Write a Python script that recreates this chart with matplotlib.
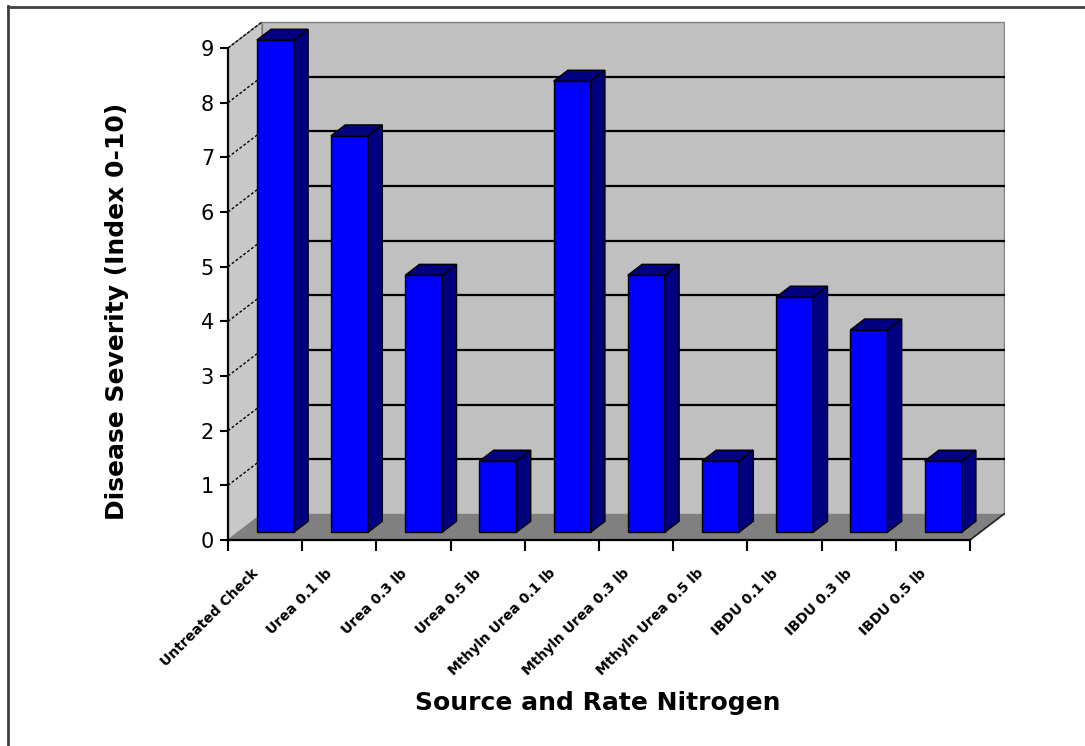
import matplotlib
matplotlib.use("Agg")
import matplotlib.pyplot as plt
import numpy as np
from matplotlib.patches import Polygon, Rectangle
from matplotlib.lines import Line2D
from matplotlib import transforms

# Data
categories = ["Untreated Check", "Urea 0.1 lb", "Urea 0.3 lb", "Urea 0.5 lb",
              "Mthyln Urea 0.1 lb", "Mthyln Urea 0.3 lb", "Mthyln Urea 0.5 lb",
              "IBDU 0.1 lb", "IBDU 0.3 lb", "IBDU 0.5 lb"]
severity = [9.0, 7.25, 4.7, 1.3, 8.25, 4.7, 1.3, 4.3, 3.7, 1.3]
y_ticks = [0, 1, 2, 3, 4, 5, 6, 7, 8, 9]

W, H = 1085, 746
fig = plt.figure(figsize=(W / 100, H / 100), dpi=100)
fig.patch.set_facecolor("white")

# pixel geometry of the plotting box
x0_px, y0_px = 228, 540
px_per_cat = 74.2
px_per_val = 54.67
ax_w_px, ax_h_px = 777, 520
ax = fig.add_axes([x0_px / W, (H - y0_px) / H, ax_w_px / W, ax_h_px / H])
ax.set_xlim(-0.5, -0.5 + ax_w_px / px_per_cat)
ax.set_ylim(0, ax_h_px / px_per_val)
ax.patch.set_alpha(0)

n = len(categories)
ymax = y_ticks[-1]
xl, xr = -0.5, n - 0.5
DX = 34 / px_per_cat   # depth offset (x, data units)
DY = 26 / px_per_val   # depth offset (y, data units)

wall = "#C0C0C0"
floor = "#808080"

# back wall
ax.add_patch(Polygon([(xl + DX, DY), (xr + DX, DY), (xr + DX, ymax + DY), (xl + DX, ymax + DY)],
                     closed=True, facecolor=wall, edgecolor="#808080", lw=1, zorder=1))
# left wall
ax.add_patch(Polygon([(xl, 0), (xl + DX, DY), (xl + DX, ymax + DY), (xl, ymax)],
                     closed=True, facecolor="#C8C8C8", edgecolor="#808080", lw=1, zorder=1))
# floor
ax.add_patch(Polygon([(xl, 0), (xr, 0), (xr + DX, DY), (xl + DX, DY)],
                     closed=True, facecolor=floor, edgecolor="none", zorder=2))
ax.add_line(Line2D([xr, xr + DX], [0, DY], color="#202020", lw=1.2, zorder=2))

# gridlines: back wall and left wall
for v in y_ticks[1:-1]:
    ax.add_line(Line2D([xl + DX, xr + DX], [v + DY, v + DY], color="black", lw=1.6, zorder=2))
for v in y_ticks[1:]:
    ax.add_line(Line2D([xl, xl + DX], [v, v + DY], color="black", lw=1.0,
                       linestyle=(0, (2, 1.5)), zorder=2))

# 3-D bars
bw = 0.5
f_front, f_back = 0.30, 0.72
front_c = "#0000FF"
dark_c = "#000080"
for i, v in enumerate(severity):
    fx, fy = f_front * DX, f_front * DY
    bx, by = f_back * DX, f_back * DY
    left = i - bw / 2
    right = i + bw / 2
    ax.bar(left + fx, v, width=bw, bottom=fy, align="edge",
           color=front_c, edgecolor="black", linewidth=1.0, zorder=5)
    side = [(right + fx, fy), (right + bx, by), (right + bx, v + by), (right + fx, v + fy)]
    top = [(left + fx, v + fy), (right + fx, v + fy), (right + bx, v + by), (left + bx, v + by)]
    ax.add_patch(Polygon(side, closed=True, facecolor=dark_c, edgecolor="black", lw=1.0, zorder=5))
    ax.add_patch(Polygon(top, closed=True, facecolor=dark_c, edgecolor="black", lw=1.0, zorder=5))

# axes
for s in ["top", "right"]:
    ax.spines[s].set_visible(False)
ax.spines["left"].set_bounds(0, ymax)
ax.spines["bottom"].set_bounds(xl, xr)
for s in ["left", "bottom"]:
    ax.spines[s].set_linewidth(1.6)
    ax.spines[s].set_zorder(6)
ax.set_yticks(y_ticks)
ax.set_yticklabels([str(t) for t in y_ticks], fontsize=15)
ax.tick_params(axis="y", length=6, width=1.5, pad=4)
ax.set_xticks(np.arange(xl, xr + 0.01, 1.0))
ax.set_xticklabels([])
ax.tick_params(axis="x", length=8, width=1.5)

lab_tr = transforms.offset_copy(ax.transData, fig=fig, x=-9, y=-31, units="dots")
for i, name in enumerate(categories):
    ax.text(i, 0, name, transform=lab_tr, rotation=45, rotation_mode="anchor",
            ha="right", va="center", fontsize=10, fontweight="bold", clip_on=False)

fig.text(598 / W, 1 - 703 / H, "Source and Rate Nitrogen", ha="center", va="center",
         fontsize=18, fontweight="bold")
fig.text(117 / W, 1 - 311 / H, "Disease Severity (Index 0-10)", ha="center", va="center",
         rotation=90, fontsize=18, fontweight="bold")

# chart frame
fig.add_artist(Line2D([8 / W, 8 / W], [0, 1 - 6 / H], color="#404040", lw=2))
fig.add_artist(Line2D([8 / W, 1], [1 - 7 / H, 1 - 7 / H], color="#404040", lw=2))

fig.savefig("out.png", dpi=100)
